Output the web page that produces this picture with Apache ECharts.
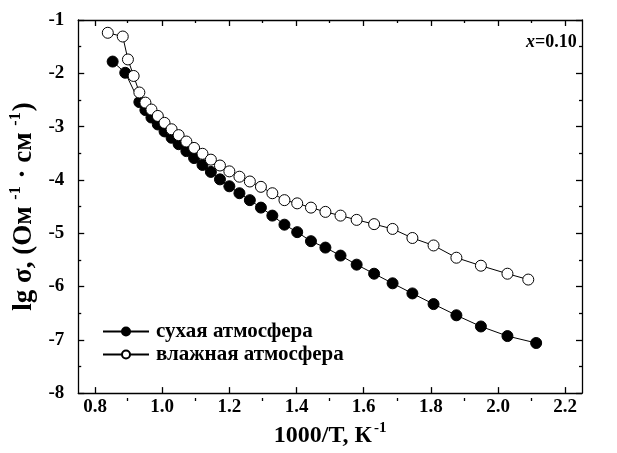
<!DOCTYPE html>
<html>
<head>
<meta charset="utf-8">
<script src="https://cdn.jsdelivr.net/npm/echarts@6/dist/echarts.min.js"></script>
<style>html,body{margin:0;padding:0;background:#fff}#c{width:617px;height:453px}</style>
</head>
<body>
<div id="c"></div>
<script>
// Data: 1000/T (K^-1) and lg sigma
const xDry = [0.8525,0.890,0.932,0.950,0.968,0.987,1.007,1.028,1.049,1.072,1.095,1.120,1.145,1.172,1.200,1.230,1.261,1.294,1.328,1.364,1.402,1.443,1.486,1.531,1.579,1.631,1.686,1.745,1.808,1.876,1.949,2.028,2.1135];
const yDry = [-1.78,-1.99,-2.54,-2.69,-2.83,-2.96,-3.09,-3.21,-3.33,-3.46,-3.59,-3.72,-3.85,-3.99,-4.12,-4.25,-4.38,-4.52,-4.67,-4.84,-4.98,-5.15,-5.27,-5.42,-5.59,-5.76,-5.94,-6.13,-6.33,-6.54,-6.75,-6.93,-7.06];
const xWet = [0.838,0.8826,0.898,0.915,0.932,0.950,0.968,0.987,1.007,1.028,1.049,1.072,1.095,1.120,1.145,1.172,1.200,1.230,1.261,1.294,1.328,1.364,1.402,1.443,1.486,1.531,1.579,1.631,1.686,1.745,1.808,1.876,1.949,2.028,2.09];
const yWet = [-1.24,-1.31,-1.74,-2.05,-2.36,-2.55,-2.68,-2.80,-2.93,-3.05,-3.16,-3.28,-3.40,-3.51,-3.62,-3.73,-3.84,-3.94,-4.03,-4.13,-4.25,-4.38,-4.44,-4.52,-4.60,-4.67,-4.75,-4.83,-4.92,-5.09,-5.23,-5.46,-5.61,-5.76,-5.87];
const xMajorTicks = [0.8,1.0,1.2,1.4,1.6,1.8,2.0,2.2];
const xMinorTicks = [0.9,1.1,1.3,1.5,1.7,1.9,2.1];
const seriesNames = ['сухая атмосфера','влажная атмосфера'];

const FONT = '"Liberation Serif", "Times New Roman", serif';
const pair = (xs, ys) => xs.map((x, i) => [x, ys[i]]);
const XMIN = 0.75, XMAX = 2.25;
const gridPos = {left: 77, right: 35, top: 20, bottom: 52};
const lineBlack = {show: true, lineStyle: {color: '#000', width: 1.3}};
const tickStyle = {color: '#000', width: 1.3};

const chart = echarts.init(document.getElementById('c'), null, {renderer: 'canvas'});
chart.setOption({
  animation: false,
  backgroundColor: '#fff',
  grid: [Object.assign({containLabel: false}, gridPos), Object.assign({containLabel: false}, gridPos)],
  xAxis: [
    {
      type: 'value', gridIndex: 0, min: XMIN, max: XMAX, position: 'bottom',
      axisLine: lineBlack, splitLine: {show: false},
      axisTick: {show: true, inside: true, length: 6, customValues: xMajorTicks, lineStyle: tickStyle},
      axisLabel: {customValues: xMajorTicks, formatter: v => v.toFixed(1), color: '#000', fontFamily: FONT, fontWeight: 'bold', fontSize: 19, margin: 4},
      name: '{a|1000/T, К}{s|-1}', nameLocation: 'middle', nameGap: 25,
      nameTextStyle: {rich: {
        a: {fontFamily: FONT, fontWeight: 'bold', fontSize: 24, color: '#000'},
        s: {fontFamily: FONT, fontWeight: 'bold', fontSize: 15, color: '#000', padding: [0, 0, 15, 2]}
      }}
    },
    {
      type: 'value', gridIndex: 0, min: XMIN, max: XMAX, position: 'top',
      axisLine: lineBlack, splitLine: {show: false},
      axisTick: {show: true, inside: true, length: 6, customValues: xMajorTicks, lineStyle: tickStyle},
      axisLabel: {show: false}
    },
    {
      type: 'value', gridIndex: 1, min: XMIN, max: XMAX, position: 'bottom',
      axisLine: {show: false}, splitLine: {show: false},
      axisTick: {show: true, inside: true, length: 3, customValues: xMinorTicks, lineStyle: tickStyle},
      axisLabel: {show: false}
    },
    {
      type: 'value', gridIndex: 1, min: XMIN, max: XMAX, position: 'top',
      axisLine: {show: false}, splitLine: {show: false},
      axisTick: {show: true, inside: true, length: 3, customValues: xMinorTicks, lineStyle: tickStyle},
      axisLabel: {show: false}
    }
  ],
  yAxis: [
    {
      type: 'value', gridIndex: 0, min: -8, max: -1, interval: 1, position: 'left',
      axisLine: lineBlack, splitLine: {show: false},
      axisTick: {show: true, inside: true, length: 6, lineStyle: tickStyle},
      minorTick: {show: true, splitNumber: 2, length: 3, lineStyle: tickStyle},
      axisLabel: {color: '#000', fontFamily: FONT, fontWeight: 'bold', fontSize: 19, margin: 14},
      name: '{a|lg σ, (Ом }{s|-1}{a| · см }{s|-1}{a|)}', nameLocation: 'middle', nameGap: 37, nameRotate: 90,
      nameTextStyle: {rich: {
        a: {fontFamily: FONT, fontWeight: 'bold', fontSize: 27, color: '#000'},
        s: {fontFamily: FONT, fontWeight: 'bold', fontSize: 16, color: '#000', padding: [0, 1, 16, 0]}
      }}
    },
    {
      type: 'value', gridIndex: 0, min: -8, max: -1, interval: 1, position: 'right',
      axisLine: lineBlack, splitLine: {show: false},
      axisTick: {show: true, inside: true, length: 6, lineStyle: tickStyle},
      minorTick: {show: true, splitNumber: 2, length: 3, lineStyle: tickStyle},
      axisLabel: {show: false}
    },
    {
      type: 'value', gridIndex: 1, min: -8, max: -1, show: false
    }
  ],
  legend: {
    orient: 'vertical', left: 97, top: 316, itemGap: 2, itemWidth: 46, itemHeight: 10,
    data: seriesNames,
    textStyle: {fontFamily: FONT, fontWeight: 'bold', fontSize: 21, color: '#000', padding: [0, 0, 0, 2]}
  },
  graphic: [{
    type: 'text', left: 526, top: 33,
    style: {
      text: '{i|x}{b|=0.10}',
      rich: {
        i: {fontFamily: FONT, fontWeight: 'bold', fontStyle: 'italic', fontSize: 18, fill: '#000'},
        b: {fontFamily: FONT, fontWeight: 'bold', fontSize: 18, fill: '#000'}
      }
    }
  }],
  series: [
    {
      name: seriesNames[0], type: 'line', xAxisIndex: 0, yAxisIndex: 0,
      data: pair(xDry, yDry), symbol: 'circle', symbolSize: 11,
      lineStyle: {color: '#000', width: 1},
      itemStyle: {color: '#000', borderColor: '#000', borderWidth: 1}
    },
    {
      name: seriesNames[1], type: 'line', xAxisIndex: 0, yAxisIndex: 0,
      data: pair(xWet, yWet), symbol: 'circle', symbolSize: 11,
      lineStyle: {color: '#000', width: 1},
      itemStyle: {color: '#fff', borderColor: '#000', borderWidth: 1}
    }
  ]
});
</script>
</body>
</html>
